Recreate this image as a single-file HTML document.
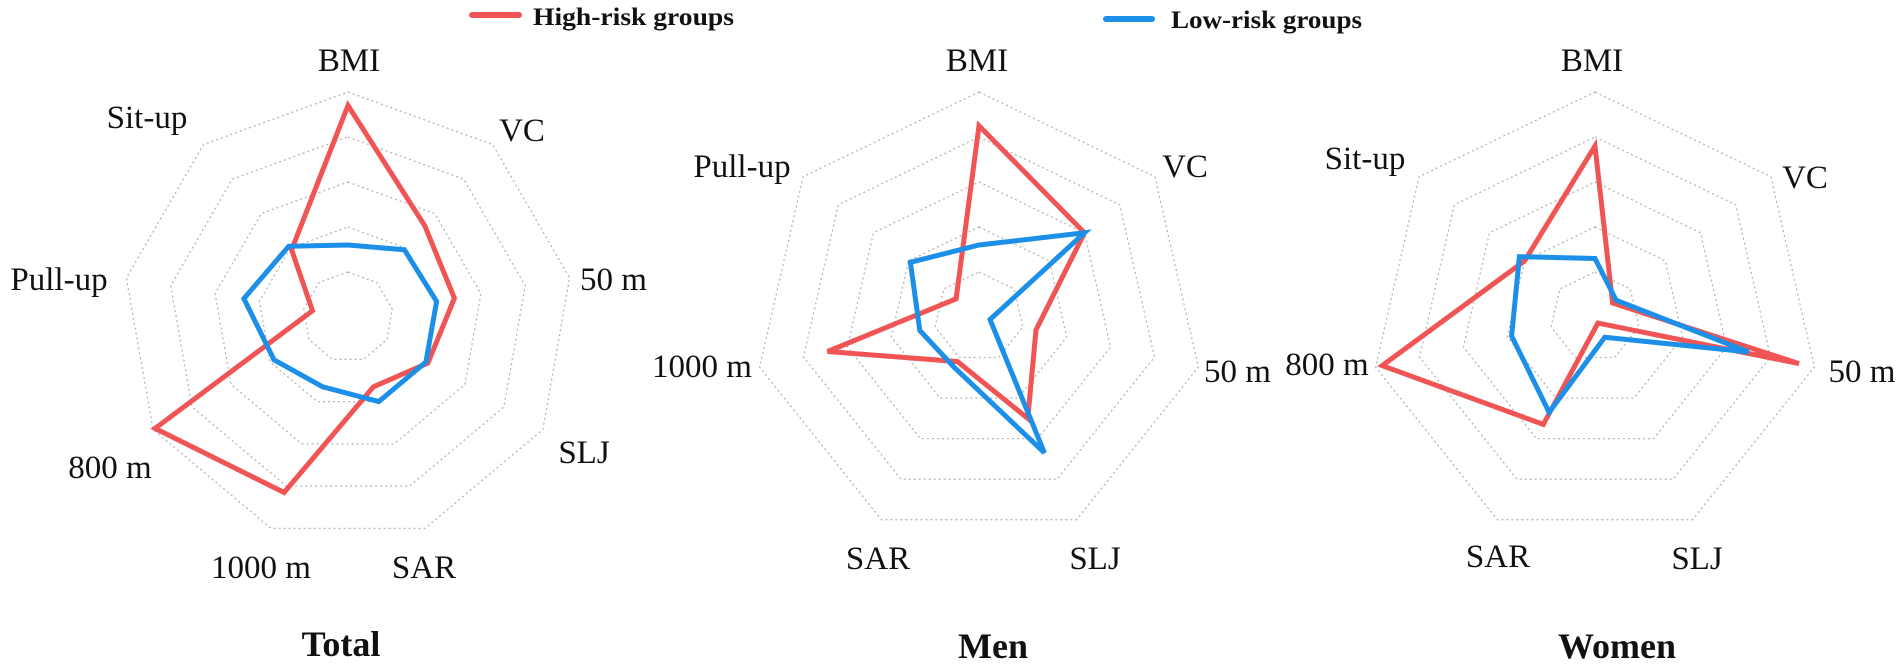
<!DOCTYPE html>
<html><head><meta charset="utf-8"><style>
html,body{margin:0;padding:0;background:#fff;}
svg{display:block;}
text{font-family:"Liberation Serif",serif;fill:#111;}
.l{font-size:33px;}
.t{font-size:36px;font-weight:bold;}
.g{font-size:25px;font-weight:bold;}
</style></head><body>
<svg id="s" width="1902" height="668" viewBox="0 0 1902 668" xmlns="http://www.w3.org/2000/svg">
<g id="grid"></g>
<g id="data"></g>
<line x1="472" y1="15" x2="519" y2="15" stroke="#F05454" stroke-width="6" stroke-linecap="round"/>
<text class="g" x="533" y="25" textLength="201" lengthAdjust="spacingAndGlyphs">High-risk groups</text>
<line x1="1106" y1="19" x2="1152" y2="19" stroke="#1C8FE8" stroke-width="6" stroke-linecap="round"/>
<text class="g" x="1171" y="28" textLength="191" lengthAdjust="spacingAndGlyphs">Low-risk groups</text>

<text class="l" x="349" y="71" text-anchor="middle">BMI</text>
<text class="l" x="147" y="128" text-anchor="middle">Sit-up</text>
<text class="l" x="522" y="141" text-anchor="middle">VC</text>
<text class="l" x="59" y="290" text-anchor="middle">Pull-up</text>
<text class="l" x="580" y="290">50 m</text>
<text class="l" x="584" y="463" text-anchor="middle">SLJ</text>
<text class="l" x="110" y="478" text-anchor="middle">800 m</text>
<text class="l" x="261" y="578" text-anchor="middle">1000 m</text>
<text class="l" x="424" y="578" text-anchor="middle">SAR</text>
<text class="t" x="341" y="656" text-anchor="middle">Total</text>

<text class="l" x="977" y="71" text-anchor="middle">BMI</text>
<text class="l" x="742" y="177" text-anchor="middle">Pull-up</text>
<text class="l" x="1185" y="177" text-anchor="middle">VC</text>
<text class="l" x="1204" y="382">50 m</text>
<text class="l" x="702" y="377" text-anchor="middle">1000 m</text>
<text class="l" x="878" y="569" text-anchor="middle">SAR</text>
<text class="l" x="1095" y="569" text-anchor="middle">SLJ</text>
<text class="t" x="993" y="658" text-anchor="middle">Men</text>

<text class="l" x="1592" y="71" text-anchor="middle">BMI</text>
<text class="l" x="1365" y="169" text-anchor="middle">Sit-up</text>
<text class="l" x="1805" y="188" text-anchor="middle">VC</text>
<text class="l" x="1862" y="382" text-anchor="middle">50 m</text>
<text class="l" x="1327" y="375" text-anchor="middle">800 m</text>
<text class="l" x="1498" y="567" text-anchor="middle">SAR</text>
<text class="l" x="1697" y="569" text-anchor="middle">SLJ</text>
<text class="t" x="1617" y="658" text-anchor="middle">Women</text>
</svg>
<script>
var NS="http://www.w3.org/2000/svg";
var charts=[
 {cx:348,cy:317,R:225,n:9,
  red:[0.94,0.53,0.48,0.41,0.33,0.83,0.99,0.16,0.39],
  blue:[0.32,0.39,0.40,0.40,0.40,0.33,0.38,0.47,0.41]},
 {cx:979,cy:317,R:225,n:7,
  red:[0.85,0.60,0.26,0.50,0.22,0.69,0.13],
  blue:[0.32,0.60,0.05,0.67,0.25,0.27,0.39]},
 {cx:1595,cy:317,R:225,n:7,
  red:[0.76,0.10,0.93,0.03,0.53,0.97,0.40],
  blue:[0.26,0.12,0.70,0.10,0.47,0.38,0.43]}
];
function pts(c,vals){
  var a=[];
  for(var i=0;i<c.n;i++){
    var ang=2*Math.PI*i/c.n;
    var r=c.R*vals[i];
    a.push((c.cx+r*Math.sin(ang)).toFixed(1)+","+(c.cy-r*Math.cos(ang)).toFixed(1));
  }
  return a.join(" ");
}
var grid=document.getElementById("grid"),data=document.getElementById("data");
charts.forEach(function(c){
  for(var k=1;k<=5;k++){
    var v=[];for(var i=0;i<c.n;i++)v.push(k/5);
    var p=document.createElementNS(NS,"polygon");
    p.setAttribute("points",pts(c,v));
    p.setAttribute("fill","none");p.setAttribute("stroke","#b5b5b5");
    p.setAttribute("stroke-width","1.3");p.setAttribute("stroke-dasharray","2 3");
    grid.appendChild(p);
  }
  [["red","#F05454"],["blue","#1C8FE8"]].forEach(function(s){
    var p=document.createElementNS(NS,"polygon");
    p.setAttribute("points",pts(c,c[s[0]]));
    p.setAttribute("fill","none");p.setAttribute("stroke",s[1]);
    p.setAttribute("stroke-width","5");p.setAttribute("stroke-linejoin","miter");
    data.appendChild(p);
  });
});
</script>
</body></html>
